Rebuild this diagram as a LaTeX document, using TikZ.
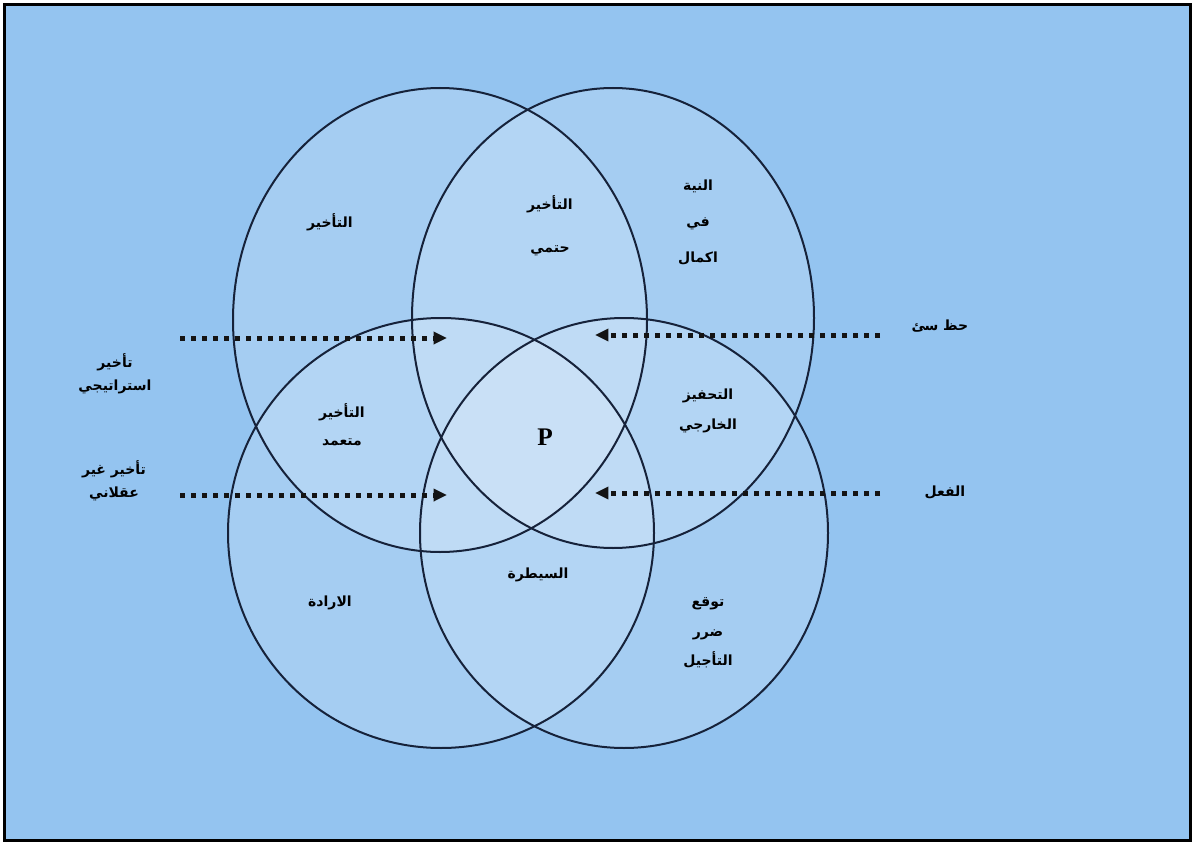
\documentclass[tikz,border=0pt]{standalone}
\usepackage{fontspec}
\newfontfamily\arabicfont[Script=Arabic]{DejaVu Sans}
\newfontfamily\pfont{Liberation Serif}
\TeXXeTstate=1
\usepackage{xcolor}
\usepackage{tikz}
\usetikzlibrary{arrows.meta}
\definecolor{bgblue}{RGB}{148,196,240}
\definecolor{rimnavy}{RGB}{22,34,58}
\newcommand{\ar}[1]{\beginR#1\endR}

\begin{document}
\begin{tikzpicture}[x=0.75pt,y=0.75pt,yscale=-1,xscale=1,
  ring/.style={draw=rimnavy,line width=1.5pt},
  glass/.style={fill=white,fill opacity=0.16},
  lbl/.style={inner sep=0.75pt,align=center,text=black,font=\arabicfont\bfseries\fontsize{10.5}{13}\selectfont},
  push/.style={draw=black!92,line width=3.75pt,dash pattern=on 3.75pt off 4.5pt,-{Triangle[length=10pt,width=9pt]}}]
\useasboundingbox (0,0) rectangle (1196,845);
\fill[white] (0,0) rectangle (1196,845);
%Shape: Rectangle (frame)
\draw [line width=2.25pt,fill=bgblue] (4.5,4.5) rectangle (1190.5,840.5);

%Shape: Ellipse (fills)
\fill [glass] (440,320) ellipse [x radius=207,y radius=232];
\fill [glass] (613,318) ellipse [x radius=201,y radius=230];
\fill [glass] (441,533) ellipse [x radius=213,y radius=215];
\fill [glass] (624,533) ellipse [x radius=204,y radius=215];
%Shape: Ellipse (rims)
\draw [ring] (440,320) ellipse [x radius=207,y radius=232];
\draw [ring] (613,318) ellipse [x radius=201,y radius=230];
\draw [ring] (441,533) ellipse [x radius=213,y radius=215];
\draw [ring] (624,533) ellipse [x radius=204,y radius=215];

%Arrow ends
\coordinate (stratTail) at (180,338);
\coordinate (stratHead) at (447,338);
\coordinate (irratTail) at (180,495);
\coordinate (irratHead) at (447,495);
\coordinate (luckTail) at (880,335);
\coordinate (luckHead) at (595,335);
\coordinate (actTail) at (880,493);
\coordinate (actHead) at (595,493);

%Straight Lines
\draw [push] (stratTail) -- (stratHead);
\draw [push] (irratTail) -- (irratHead);
\draw [push] (luckTail) -- (luckHead);
\draw [push] (actTail) -- (actHead);

% Text Node
\draw (330,222) node (delay) [lbl] {\ar{التأخير}};
% Text Node
\draw (550,226) node (inevitable) [lbl] {\ar{التأخير}\\[19pt]\ar{حتمي}};
% Text Node
\draw (698,222) node (intent) [lbl] {\ar{النية}\\[14pt]\ar{في}\\[14pt]\ar{اكمال}};
% Text Node
\draw (115,374) node (strategic) [lbl] {\ar{تأخير}\\[4pt]\ar{استراتيجي}};
% Text Node
\draw (114,481) node (irrational) [lbl] {\ar{تأخير غير}\\[4pt]\ar{عقلاني}};
% Text Node
\draw (940,326) node (badluck) [lbl] {\ar{حظ سئ}};
% Text Node
\draw (945,492) node (action) [lbl] {\ar{الفعل}};
% Text Node
\draw (342,425) node (deliberate) [lbl] {\ar{التأخير}\\[8pt]\ar{متعمد}};
% Text Node
\draw (545,437) node (core) [inner sep=0.75pt,font=\pfont\bfseries\fontsize{19}{22}\selectfont] {P};
% Text Node
\draw (708,411) node (external) [lbl] {\ar{التحفيز}\\[10pt]\ar{الخارجي}};
% Text Node
\draw (330,603) node (will) [lbl] {\ar{الارادة}};
% Text Node
\draw (538,575) node (control) [lbl] {\ar{السيطرة}};
% Text Node
\draw (708,633) node (harm) [lbl] {\ar{توقع}\\[9pt]\ar{ضرر}\\[9pt]\ar{التأجيل}};

\end{tikzpicture}
\end{document}
